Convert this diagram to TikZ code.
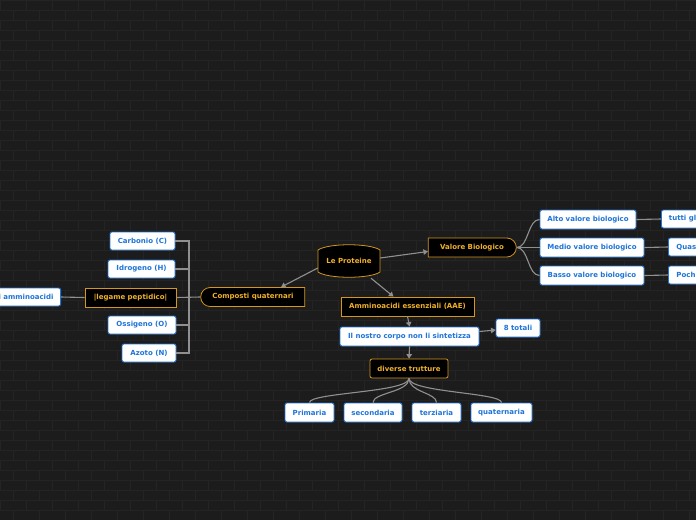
\documentclass[tikz,border=0pt]{standalone}
\usepackage{fontspec}
\setmainfont{DejaVu Sans}
\usetikzlibrary{arrows.meta,shapes.misc,positioning}

\definecolor{sfondo}{HTML}{1C1C1C}
\definecolor{righe}{HTML}{242424}
\definecolor{oro}{HTML}{F0B02A}
\definecolor{oroscuro}{HTML}{D4961E}
\definecolor{blu}{HTML}{1E74D9}
\definecolor{grigio}{HTML}{909090}

\begin{document}
\begin{tikzpicture}[x=1pt, y=-1pt,
  testo/.style={font=\fontsize{7}{8}\selectfont\bfseries},
  bianco/.style={testo, rectangle, rounded corners=2pt, draw=blu, fill=white, text=blu, line width=0.9pt, minimum height=18pt, inner xsep=2pt},
  nero/.style={testo, rectangle, draw=oroscuro, fill=black, text=oro, line width=0.8pt, minimum height=19pt, inner xsep=2pt},
  legame/.style={draw=grigio, line width=1.1pt},
  freccia/.style={legame, -{Triangle[length=4.5pt,width=5.5pt]}},
  mattone/.style={draw=righe, line width=0.6pt}]

  % Sfondo a mattoni
  \useasboundingbox (0,0) rectangle (696,520);
  \fill[sfondo] (0,0) rectangle (696,520);
  \foreach \r in {0,...,51} {
    \draw[mattone] (0,\r*10) -- (696,\r*10);
    \pgfmathtruncatemacro{\off}{mod(\r,2)*13}
    \foreach \c in {0,...,27}
      \draw[mattone] (\c*26+\off,\r*10) -- ++(0,10);
  }

  % Nodo centrale
  \path[draw=oroscuro, fill=black, line width=0.8pt] (318,250) .. controls (328,243) and (370,243) .. (380,250)
    -- (380,272) .. controls (370,279) and (328,279) .. (318,272) -- cycle;
  \node[testo, text=oro, minimum width=62pt, minimum height=24pt] (prot) at (349,261) {Le Proteine};

  % Ramo sinistro
  \node[nero, rounded rectangle, rounded rectangle right arc=none, minimum width=108pt] (comp) at (253,297) {Composti quaternari};
  \node[nero, minimum width=91pt] (leg) at (130.5,297.5) {|legame peptidico|};
  \node[bianco, anchor=east, inner xsep=7pt] (amm) at (61,297) {i amminoacidi};
  \node[bianco, minimum width=65pt] (carb) at (142.5,241) {Carbonio (C)};
  \node[bianco, minimum width=67pt] (idro) at (141.5,269) {Idrogeno (H)};
  \node[bianco, minimum width=68pt] (ossi) at (142,325) {Ossigeno (O)};
  \node[bianco, minimum width=54pt] (azoto) at (149,353) {Azoto (N)};

  % Ramo destro
  \node[nero, rounded rectangle, rounded rectangle left arc=none, minimum width=92pt] (valore) at (472,247.5) {Valore Biologico};
  \node[bianco, minimum width=96pt, minimum height=19pt] (alto) at (588,219.5) {Alto valore biologico};
  \node[bianco, minimum width=104pt, minimum height=19pt] (medio) at (592,247.5) {Medio valore biologico};
  \node[bianco, minimum width=104pt, minimum height=19pt] (basso) at (592,275.5) {Basso valore biologico};
  \node[bianco, anchor=west, inner xsep=7.5pt] (tutti) at (661,219) {tutti gl};
  \node[bianco, anchor=west, inner xsep=8pt] (quasi) at (668,247) {Quas};
  \node[bianco, anchor=west, inner xsep=8pt] (pochi) at (668,275) {Poch};

  % Ramo in basso
  \node[nero, minimum width=133pt] (aae) at (407.5,306.5) {Amminoacidi essenziali (AAE)};
  \node[bianco, minimum width=139pt, minimum height=19pt] (corpo) at (409.5,336.5) {Il nostro corpo non li sintetizza};
  \node[bianco, minimum width=44pt] (totali) at (518,328) {8 totali};
  \node[nero, rounded corners=2pt, minimum width=78pt] (div) at (409,368.5) {diverse trutture};
  \node[bianco, minimum width=49pt, minimum height=19pt] (prim) at (309.5,412.5) {Primaria};
  \node[bianco, minimum width=58pt, minimum height=19pt] (sec) at (373,412.5) {secondaria};
  \node[bianco, minimum width=49pt, minimum height=19pt] (terz) at (436.5,412.5) {terziaria};
  \node[bianco, minimum width=61pt, minimum height=19pt] (quat) at (501.5,412.5) {quaternaria};

  % Collegamenti
  \draw[freccia] ([yshift=-7pt]prot.west) -- ([xshift=28pt]comp.north);
  \draw[freccia] ([yshift=3pt]prot.east) -- ([yshift=-4pt]valore.west);
  \draw[freccia] ([xshift=22pt,yshift=-5pt]prot.south) -- ([xshift=-14pt]aae.north);

  \coordinate (snodo) at (189,297.5);
  \foreach \n in {carb, idro, ossi, azoto}
    \draw[legame] (\n.east) -| (snodo);
  \draw[legame] (leg.east) -- (comp.west);
  \draw[legame] (amm.east) -- (leg.west);

  \foreach \n in {alto, medio, basso}
    \draw[legame] (valore.east) .. controls +(12,0) and +(-12,0) .. (\n.west);
  \draw[legame] (alto.east) -- (tutti.west);
  \draw[legame] (medio.east) -- (quasi.west);
  \draw[legame] (basso.east) -- (pochi.west);

  \draw[freccia] (aae.south) -- (corpo.north);
  \draw[freccia] ([yshift=5pt]corpo.east) -- ([yshift=-2pt]totali.west);
  \draw[freccia] (corpo.south) -- (div.north);
  \foreach \n in {prim, sec, terz, quat}
    \draw[legame] (div.south) .. controls +(0,14) and +(0,-10) .. (\n.north);

\end{tikzpicture}
\end{document}
